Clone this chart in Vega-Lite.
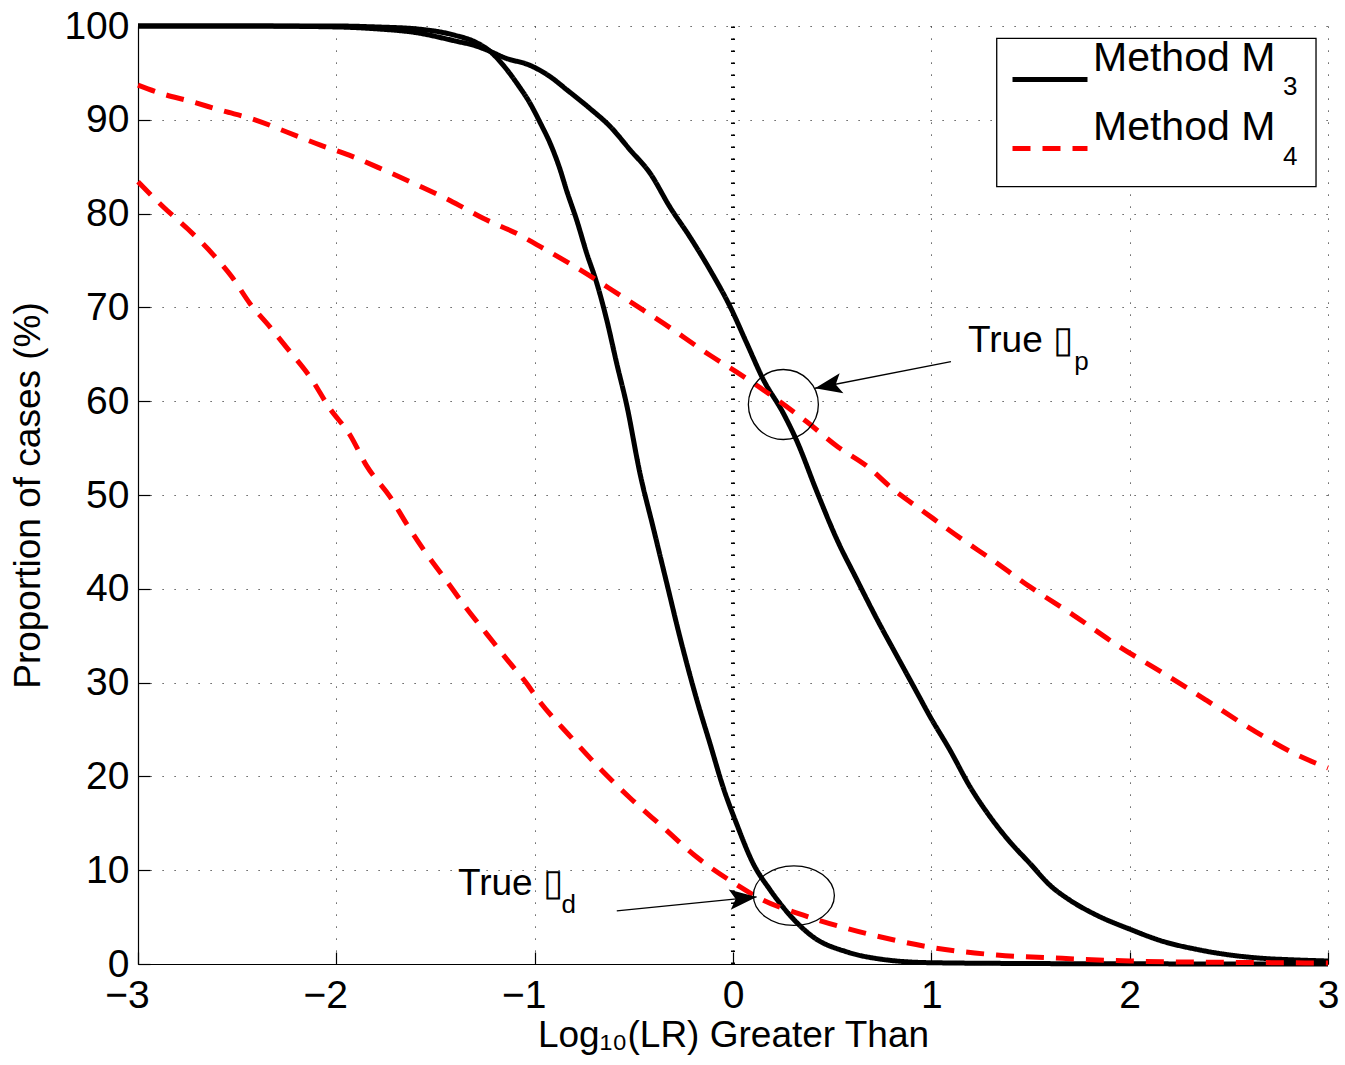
{
  "$schema": "https://vega.github.io/schema/vega-lite/v6.json",
  "width": 1190,
  "height": 938,
  "autosize": {"type": "none"},
  "padding": {"left": 138, "top": 26, "right": 17, "bottom": 101},
  "background": "white",
  "config": {
    "view": {"stroke": null},
    "font": "Liberation Sans",
    "axis": {
      "domainColor": "black", "domainWidth": 1.2,
      "tickColor": "black", "tickWidth": 1.2, "tickSize": -12,
      "gridColor": "#333333", "gridDash": [1.2, 10.8], "gridWidth": 1, "gridOpacity": 1,
      "labelFont": "Liberation Sans", "labelFontSize": 39, "labelColor": "black",
      "titleFont": "Liberation Sans", "titleFontSize": 37, "titleFontWeight": "normal", "titleColor": "black"
    }
  },
  "datasets": {
    "curves": [
      {"curve": "M3hd", "method": "M3", "x": -3.0, "y": 100},
      {"curve": "M3hd", "method": "M3", "x": -2.5, "y": 100},
      {"curve": "M3hd", "method": "M3", "x": -2.0, "y": 100},
      {"curve": "M3hd", "method": "M3", "x": -1.8, "y": 99.9},
      {"curve": "M3hd", "method": "M3", "x": -1.6, "y": 99.7},
      {"curve": "M3hd", "method": "M3", "x": -1.4, "y": 99.0},
      {"curve": "M3hd", "method": "M3", "x": -1.3, "y": 98.3},
      {"curve": "M3hd", "method": "M3", "x": -1.225, "y": 97.3},
      {"curve": "M3hd", "method": "M3", "x": -1.15, "y": 95.6},
      {"curve": "M3hd", "method": "M3", "x": -1.08, "y": 93.6},
      {"curve": "M3hd", "method": "M3", "x": -1.03, "y": 92.0},
      {"curve": "M3hd", "method": "M3", "x": -0.97, "y": 89.6},
      {"curve": "M3hd", "method": "M3", "x": -0.92, "y": 87.4},
      {"curve": "M3hd", "method": "M3", "x": -0.875, "y": 84.9},
      {"curve": "M3hd", "method": "M3", "x": -0.838, "y": 82.4},
      {"curve": "M3hd", "method": "M3", "x": -0.788, "y": 79.3},
      {"curve": "M3hd", "method": "M3", "x": -0.738, "y": 75.8},
      {"curve": "M3hd", "method": "M3", "x": -0.687, "y": 72.6},
      {"curve": "M3hd", "method": "M3", "x": -0.637, "y": 68.7},
      {"curve": "M3hd", "method": "M3", "x": -0.586, "y": 64.0},
      {"curve": "M3hd", "method": "M3", "x": -0.536, "y": 59.6},
      {"curve": "M3hd", "method": "M3", "x": -0.469, "y": 52.3},
      {"curve": "M3hd", "method": "M3", "x": -0.402, "y": 46.5},
      {"curve": "M3hd", "method": "M3", "x": -0.334, "y": 40.6},
      {"curve": "M3hd", "method": "M3", "x": -0.267, "y": 34.8},
      {"curve": "M3hd", "method": "M3", "x": -0.183, "y": 28.2},
      {"curve": "M3hd", "method": "M3", "x": -0.116, "y": 23.5},
      {"curve": "M3hd", "method": "M3", "x": -0.049, "y": 18.8},
      {"curve": "M3hd", "method": "M3", "x": 0.019, "y": 14.9},
      {"curve": "M3hd", "method": "M3", "x": 0.102, "y": 10.7},
      {"curve": "M3hd", "method": "M3", "x": 0.187, "y": 7.9},
      {"curve": "M3hd", "method": "M3", "x": 0.287, "y": 5.2},
      {"curve": "M3hd", "method": "M3", "x": 0.405, "y": 2.87},
      {"curve": "M3hd", "method": "M3", "x": 0.573, "y": 1.3},
      {"curve": "M3hd", "method": "M3", "x": 0.741, "y": 0.53},
      {"curve": "M3hd", "method": "M3", "x": 0.993, "y": 0.14},
      {"curve": "M3hd", "method": "M3", "x": 1.5, "y": 0.05},
      {"curve": "M3hd", "method": "M3", "x": 2.0, "y": 0.02},
      {"curve": "M3hd", "method": "M3", "x": 3.0, "y": 0.0},
      {"curve": "M3hp", "method": "M3", "x": -3.0, "y": 100},
      {"curve": "M3hp", "method": "M3", "x": -2.5, "y": 100},
      {"curve": "M3hp", "method": "M3", "x": -2.0, "y": 99.9},
      {"curve": "M3hp", "method": "M3", "x": -1.8, "y": 99.7},
      {"curve": "M3hp", "method": "M3", "x": -1.6, "y": 99.3},
      {"curve": "M3hp", "method": "M3", "x": -1.4, "y": 98.4},
      {"curve": "M3hp", "method": "M3", "x": -1.3, "y": 97.9},
      {"curve": "M3hp", "method": "M3", "x": -1.225, "y": 97.3},
      {"curve": "M3hp", "method": "M3", "x": -1.15, "y": 96.6},
      {"curve": "M3hp", "method": "M3", "x": -1.023, "y": 95.8},
      {"curve": "M3hp", "method": "M3", "x": -0.922, "y": 94.6},
      {"curve": "M3hp", "method": "M3", "x": -0.838, "y": 93.2},
      {"curve": "M3hp", "method": "M3", "x": -0.721, "y": 91.2},
      {"curve": "M3hp", "method": "M3", "x": -0.62, "y": 89.3},
      {"curve": "M3hp", "method": "M3", "x": -0.519, "y": 86.8},
      {"curve": "M3hp", "method": "M3", "x": -0.418, "y": 84.3},
      {"curve": "M3hp", "method": "M3", "x": -0.318, "y": 80.7},
      {"curve": "M3hp", "method": "M3", "x": -0.217, "y": 77.5},
      {"curve": "M3hp", "method": "M3", "x": -0.116, "y": 74.0},
      {"curve": "M3hp", "method": "M3", "x": -0.015, "y": 70.1},
      {"curve": "M3hp", "method": "M3", "x": 0.069, "y": 66.2},
      {"curve": "M3hp", "method": "M3", "x": 0.153, "y": 62.3},
      {"curve": "M3hp", "method": "M3", "x": 0.254, "y": 58.7},
      {"curve": "M3hp", "method": "M3", "x": 0.321, "y": 55.8},
      {"curve": "M3hp", "method": "M3", "x": 0.422, "y": 50.4},
      {"curve": "M3hp", "method": "M3", "x": 0.523, "y": 45.3},
      {"curve": "M3hp", "method": "M3", "x": 0.624, "y": 41.0},
      {"curve": "M3hp", "method": "M3", "x": 0.725, "y": 36.8},
      {"curve": "M3hp", "method": "M3", "x": 0.825, "y": 32.9},
      {"curve": "M3hp", "method": "M3", "x": 0.926, "y": 29.0},
      {"curve": "M3hp", "method": "M3", "x": 0.993, "y": 26.4},
      {"curve": "M3hp", "method": "M3", "x": 1.094, "y": 22.8},
      {"curve": "M3hp", "method": "M3", "x": 1.195, "y": 18.9},
      {"curve": "M3hp", "method": "M3", "x": 1.296, "y": 15.7},
      {"curve": "M3hp", "method": "M3", "x": 1.397, "y": 13.0},
      {"curve": "M3hp", "method": "M3", "x": 1.498, "y": 10.7},
      {"curve": "M3hp", "method": "M3", "x": 1.598, "y": 8.4},
      {"curve": "M3hp", "method": "M3", "x": 1.699, "y": 6.8},
      {"curve": "M3hp", "method": "M3", "x": 1.834, "y": 5.2},
      {"curve": "M3hp", "method": "M3", "x": 2.002, "y": 3.7},
      {"curve": "M3hp", "method": "M3", "x": 2.17, "y": 2.4},
      {"curve": "M3hp", "method": "M3", "x": 2.338, "y": 1.56},
      {"curve": "M3hp", "method": "M3", "x": 2.506, "y": 0.96},
      {"curve": "M3hp", "method": "M3", "x": 2.674, "y": 0.6},
      {"curve": "M3hp", "method": "M3", "x": 2.842, "y": 0.43},
      {"curve": "M3hp", "method": "M3", "x": 3.0, "y": 0.32},
      {"curve": "M4hp", "method": "M4", "x": -3.0, "y": 93.7},
      {"curve": "M4hp", "method": "M4", "x": -2.874, "y": 92.75},
      {"curve": "M4hp", "method": "M4", "x": -2.74, "y": 92.0},
      {"curve": "M4hp", "method": "M4", "x": -2.58, "y": 91.0},
      {"curve": "M4hp", "method": "M4", "x": -2.41, "y": 90.0},
      {"curve": "M4hp", "method": "M4", "x": -2.25, "y": 88.7},
      {"curve": "M4hp", "method": "M4", "x": -2.08, "y": 87.3},
      {"curve": "M4hp", "method": "M4", "x": -1.92, "y": 86.1},
      {"curve": "M4hp", "method": "M4", "x": -1.755, "y": 84.6},
      {"curve": "M4hp", "method": "M4", "x": -1.587, "y": 83.0},
      {"curve": "M4hp", "method": "M4", "x": -1.427, "y": 81.4},
      {"curve": "M4hp", "method": "M4", "x": -1.26, "y": 79.5},
      {"curve": "M4hp", "method": "M4", "x": -1.074, "y": 77.7},
      {"curve": "M4hp", "method": "M4", "x": -0.99, "y": 76.7},
      {"curve": "M4hp", "method": "M4", "x": -0.77, "y": 74.0},
      {"curve": "M4hp", "method": "M4", "x": -0.57, "y": 71.3},
      {"curve": "M4hp", "method": "M4", "x": -0.35, "y": 68.3},
      {"curve": "M4hp", "method": "M4", "x": -0.116, "y": 64.9},
      {"curve": "M4hp", "method": "M4", "x": 0.019, "y": 63.1},
      {"curve": "M4hp", "method": "M4", "x": 0.153, "y": 61.2},
      {"curve": "M4hp", "method": "M4", "x": 0.372, "y": 57.8},
      {"curve": "M4hp", "method": "M4", "x": 0.531, "y": 55.1},
      {"curve": "M4hp", "method": "M4", "x": 0.674, "y": 53.1},
      {"curve": "M4hp", "method": "M4", "x": 0.808, "y": 50.6},
      {"curve": "M4hp", "method": "M4", "x": 0.96, "y": 48.25},
      {"curve": "M4hp", "method": "M4", "x": 1.16, "y": 45.2},
      {"curve": "M4hp", "method": "M4", "x": 1.296, "y": 43.25},
      {"curve": "M4hp", "method": "M4", "x": 1.498, "y": 40.2},
      {"curve": "M4hp", "method": "M4", "x": 1.716, "y": 37.2},
      {"curve": "M4hp", "method": "M4", "x": 1.951, "y": 33.8},
      {"curve": "M4hp", "method": "M4", "x": 2.17, "y": 31.0},
      {"curve": "M4hp", "method": "M4", "x": 2.388, "y": 28.1},
      {"curve": "M4hp", "method": "M4", "x": 2.624, "y": 24.9},
      {"curve": "M4hp", "method": "M4", "x": 2.843, "y": 22.3},
      {"curve": "M4hp", "method": "M4", "x": 3.0, "y": 20.9},
      {"curve": "M4hd", "method": "M4", "x": -3.0, "y": 83.4},
      {"curve": "M4hd", "method": "M4", "x": -2.872, "y": 80.7},
      {"curve": "M4hd", "method": "M4", "x": -2.746, "y": 78.3},
      {"curve": "M4hd", "method": "M4", "x": -2.62, "y": 75.6},
      {"curve": "M4hd", "method": "M4", "x": -2.528, "y": 73.3},
      {"curve": "M4hd", "method": "M4", "x": -2.435, "y": 70.4},
      {"curve": "M4hd", "method": "M4", "x": -2.334, "y": 67.9},
      {"curve": "M4hd", "method": "M4", "x": -2.242, "y": 65.5},
      {"curve": "M4hd", "method": "M4", "x": -2.133, "y": 62.6},
      {"curve": "M4hd", "method": "M4", "x": -2.032, "y": 59.2},
      {"curve": "M4hd", "method": "M4", "x": -1.931, "y": 56.4},
      {"curve": "M4hd", "method": "M4", "x": -1.847, "y": 53.1},
      {"curve": "M4hd", "method": "M4", "x": -1.729, "y": 49.8},
      {"curve": "M4hd", "method": "M4", "x": -1.645, "y": 46.9},
      {"curve": "M4hd", "method": "M4", "x": -1.561, "y": 44.2},
      {"curve": "M4hd", "method": "M4", "x": -1.443, "y": 40.8},
      {"curve": "M4hd", "method": "M4", "x": -1.343, "y": 37.9},
      {"curve": "M4hd", "method": "M4", "x": -1.242, "y": 35.2},
      {"curve": "M4hd", "method": "M4", "x": -1.141, "y": 32.5},
      {"curve": "M4hd", "method": "M4", "x": -1.04, "y": 29.9},
      {"curve": "M4hd", "method": "M4", "x": -0.99, "y": 28.4},
      {"curve": "M4hd", "method": "M4", "x": -0.822, "y": 24.3},
      {"curve": "M4hd", "method": "M4", "x": -0.687, "y": 21.2},
      {"curve": "M4hd", "method": "M4", "x": -0.519, "y": 17.7},
      {"curve": "M4hd", "method": "M4", "x": -0.351, "y": 14.55},
      {"curve": "M4hd", "method": "M4", "x": -0.183, "y": 11.4},
      {"curve": "M4hd", "method": "M4", "x": -0.015, "y": 8.9},
      {"curve": "M4hd", "method": "M4", "x": 0.153, "y": 6.8},
      {"curve": "M4hd", "method": "M4", "x": 0.355, "y": 5.2},
      {"curve": "M4hd", "method": "M4", "x": 0.573, "y": 3.8},
      {"curve": "M4hd", "method": "M4", "x": 0.825, "y": 2.5},
      {"curve": "M4hd", "method": "M4", "x": 0.993, "y": 1.8},
      {"curve": "M4hd", "method": "M4", "x": 1.33, "y": 0.96},
      {"curve": "M4hd", "method": "M4", "x": 1.66, "y": 0.6},
      {"curve": "M4hd", "method": "M4", "x": 2.0, "y": 0.32},
      {"curve": "M4hd", "method": "M4", "x": 2.33, "y": 0.2},
      {"curve": "M4hd", "method": "M4", "x": 2.67, "y": 0.15},
      {"curve": "M4hd", "method": "M4", "x": 3.0, "y": 0.1}
    ],
    "zeroline": [{"x": 0, "y": 0}, {"x": 0, "y": 100}],
    "rings": [{"ring": "p", "x": 0.254, "y": 59.65}, {"ring": "d", "x": 0.307, "y": 7.29}],
    "arrows": [
      {"arrow": "p", "x": 1.099, "y": 64.23},
      {"arrow": "p", "x": 0.4135, "y": 61.38},
      {"arrow": "d", "x": -0.586, "y": 5.67},
      {"arrow": "d", "x": 0.119, "y": 7.15}
    ],
    "tips": [{"arrow": "p", "x": 0.4135, "y": 61.38}, {"arrow": "d", "x": 0.119, "y": 7.15}],
    "legendbox": [{"x": 1.3297, "x2": 2.9396, "y": 98.69, "y2": 82.87}],
    "labels": [{"t": "True ▯", "x": 1.185, "y": 65.25}, {"t": "True ▯", "x": -1.387, "y": 7.36}],
    "subs": [
      {"t": "p", "x": 1.72, "y": 63.3},
      {"t": "d", "x": -0.865, "y": 5.44},
      {"t": "3", "x": 2.773, "y": 92.64},
      {"t": "4", "x": 2.773, "y": 85.18}
    ]
  },
  "encoding": {
    "x": {"field": "x", "type": "quantitative",
      "scale": {"domain": [-3, 3], "nice": false, "zero": false},
      "axis": {"values": [-3, -2, -1, 0, 1, 2, 3], "title": "Log₁₀(LR) Greater Than", "labelPadding": 24, "titlePadding": 2, "labelFlush": false,
        "labelOffset": {"condition": {"test": "datum.value < 0", "value": -11}, "value": 0}}},
    "y": {"field": "y", "type": "quantitative",
      "scale": {"domain": [0, 100], "nice": false, "zero": false},
      "axis": {"values": [0, 10, 20, 30, 40, 50, 60, 70, 80, 90, 100], "title": "Proportion of cases (%)", "labelPadding": 21, "titlePadding": 16, "labelFlush": false}}
  },
  "layer": [
    {
      "data": {"name": "curves"},
      "mark": {"type": "line", "strokeWidth": 5, "strokeCap": "butt", "interpolate": "monotone"},
      "encoding": {
        "color": {"field": "method", "type": "nominal",
          "scale": {"domain": ["M3", "M4"], "range": ["#000000", "#ff0000"]},
          "legend": {"title": null, "orient": "none", "legendX": 859, "legendY": 27, "symbolType": "stroke", "symbolSize": 5625, "symbolStrokeWidth": 5, "labelFontSize": 41, "labelFont": "Liberation Sans", "labelColor": "black", "labelOffset": 3, "labelBaseline": "bottom", "padding": 0, "symbolOffset": 13, "clipHeight": 53, "rowPadding": 0, "labelLimit": 0, "labelExpr": "'Method M'"}},
        "strokeDash": {"field": "method", "type": "nominal",
          "scale": {"domain": ["M3", "M4"], "range": [[1, 0], [18, 12]]},
          "legend": {"title": null, "orient": "none", "legendX": 859, "legendY": 27, "symbolType": "stroke", "symbolSize": 5625, "symbolStrokeWidth": 5, "labelFontSize": 41, "labelFont": "Liberation Sans", "labelColor": "black", "labelOffset": 3, "labelBaseline": "bottom", "padding": 0, "symbolOffset": 13, "clipHeight": 53, "rowPadding": 0, "labelLimit": 0, "labelExpr": "'Method M'"}},
        "detail": {"field": "curve"}
      }
    },
    {
      "data": {"name": "zeroline"},
      "mark": {"type": "line", "color": "black", "strokeWidth": 4, "strokeDash": [1.5, 10.5]}
    },
    {
      "data": {"name": "rings"},
      "transform": [{"filter": "datum.ring == 'p'"}],
      "mark": {"type": "point", "shape": "M -1 0 A 1 1 0 1 0 1 0 A 1 1 0 1 0 -1 0 Z", "size": 4900, "filled": false, "color": "black", "strokeWidth": 1.3, "opacity": 1}
    },
    {
      "data": {"name": "rings"},
      "transform": [{"filter": "datum.ring == 'd'"}],
      "mark": {"type": "point", "shape": "M -1 0 A 1 0.736 0 1 0 1 0 A 1 0.736 0 1 0 -1 0 Z", "size": 6561, "filled": false, "color": "black", "strokeWidth": 1.3, "opacity": 1}
    },
    {
      "data": {"name": "arrows"},
      "mark": {"type": "line", "color": "black", "strokeWidth": 1.3},
      "encoding": {"detail": {"field": "arrow"}}
    },
    {
      "data": {"name": "tips"},
      "transform": [{"filter": "datum.arrow == 'p'"}],
      "mark": {"type": "point", "shape": "M 0 0 L -1 -0.38 L -0.78 0 L -1 0.38 Z", "size": 2916, "filled": true, "color": "black", "opacity": 1, "angle": 169.4}
    },
    {
      "data": {"name": "tips"},
      "transform": [{"filter": "datum.arrow == 'd'"}],
      "mark": {"type": "point", "shape": "M 0 0 L -1 -0.38 L -0.78 0 L -1 0.38 Z", "size": 2916, "filled": true, "color": "black", "opacity": 1, "angle": 354.3}
    },
    {
      "data": {"name": "labels"},
      "mark": {"type": "text", "align": "left", "baseline": "alphabetic", "fontSize": 37, "font": "Liberation Sans", "color": "black"},
      "encoding": {"text": {"field": "t"}}
    },
    {
      "data": {"name": "legendbox"},
      "mark": {"type": "rect", "fill": "white", "stroke": "black", "strokeWidth": 1.3},
      "encoding": {"x2": {"field": "x2"}, "y2": {"field": "y2"}}
    },
    {
      "data": {"name": "subs"},
      "mark": {"type": "text", "align": "left", "baseline": "alphabetic", "fontSize": 26, "font": "Liberation Sans", "color": "black"},
      "encoding": {"text": {"field": "t"}}
    }
  ]
}
